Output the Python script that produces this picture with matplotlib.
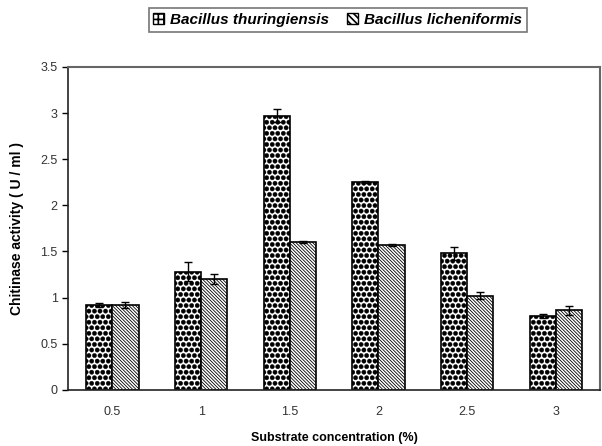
import numpy as np
import matplotlib
matplotlib.use("Agg")
import matplotlib.pyplot as plt
import matplotlib.hatch as mhatch
from matplotlib.patches import Patch

plt.rcParams['font.family'] = ['Liberation Sans', 'DejaVu Sans']

# bigger filled dots for the '.' hatch
mhatch.SmallFilledCircles.size = 0.38

concentrations = ['0.5', '1', '1.5', '2', '2.5', '3']
thuringiensis = [0.92, 1.28, 2.97, 2.25, 1.48, 0.80]
thuringiensis_err = [0.02, 0.10, 0.07, 0.01, 0.07, 0.02]
licheniformis = [0.92, 1.20, 1.60, 1.57, 1.02, 0.86]
licheniformis_err = [0.03, 0.05, 0.01, 0.01, 0.04, 0.05]

fig = plt.figure(figsize=(6.02, 4.46), dpi=100)
ax = fig.add_axes([0.113, 0.126, 0.884, 0.724])

x = np.arange(len(concentrations)) + 0.5
w = 0.295

def draw_bars(xpos, vals, errs, hatch, hlw):
    plt.rcParams['hatch.linewidth'] = hlw
    bars = ax.bar(xpos, vals, w, color='white', edgecolor='black',
                  linewidth=1.2, hatch=hatch, zorder=2)
    for b in bars:
        if hasattr(b, 'set_hatch_linewidth'):
            b.set_hatch_linewidth(hlw)
    ax.errorbar(xpos, vals, yerr=errs, fmt='none', ecolor='black',
                elinewidth=1.0, capsize=3, capthick=1.0, zorder=3)
    return bars

draw_bars(x - w / 2, thuringiensis, thuringiensis_err, '...', 0.3)
draw_bars(x + w / 2, licheniformis, licheniformis_err, '\\' * 10, 0.6)

ax.set_xlim(0, 6)
ax.set_ylim(0, 3.5)
ax.set_yticks(np.arange(0, 3.51, 0.5))
ax.set_yticklabels(['0', '0.5', '1', '1.5', '2', '2.5', '3', '3.5'])
ax.set_xticks(x)
ax.set_xticklabels(concentrations)
ax.tick_params(axis='x', length=0, pad=12, labelsize=9, colors='#333333')
ax.tick_params(axis='y', length=4, width=1, direction='out', labelsize=9,
               colors='#333333')
ax.tick_params(axis='y', color='black')

for s in ['left', 'bottom']:
    ax.spines[s].set_color('#222222')
    ax.spines[s].set_linewidth(1.2)
for s in ['top', 'right']:
    ax.spines[s].set_color('#666666')
    ax.spines[s].set_linewidth(1.5)

ax.set_ylabel('Chitinase activity ( U / ml )', fontsize=10, fontweight='bold',
              labelpad=12)
ax.set_xlabel('Substrate concentration (%)', fontsize=9, fontweight='bold',
              labelpad=10)

plt.rcParams['hatch.linewidth'] = 1.2
handles = [Patch(facecolor='white', edgecolor='black', hatch='+++'),
           Patch(facecolor='white', edgecolor='black', hatch='\\' * 5)]
leg = fig.legend(handles, ['Bacillus thuringiensis', 'Bacillus licheniformis'],
                 loc='center', bbox_to_anchor=(0.561, 0.955), ncol=2,
                 frameon=True, fancybox=False, handlelength=0.7,
                 handleheight=0.7, handletextpad=0.4, columnspacing=1.2,
                 borderpad=0.3, prop={'weight': 'bold', 'style': 'italic',
                                      'size': 11})
leg.get_frame().set_edgecolor('#555555')
leg.get_frame().set_linewidth(1.2)

fig.savefig('out.png', dpi=100)
